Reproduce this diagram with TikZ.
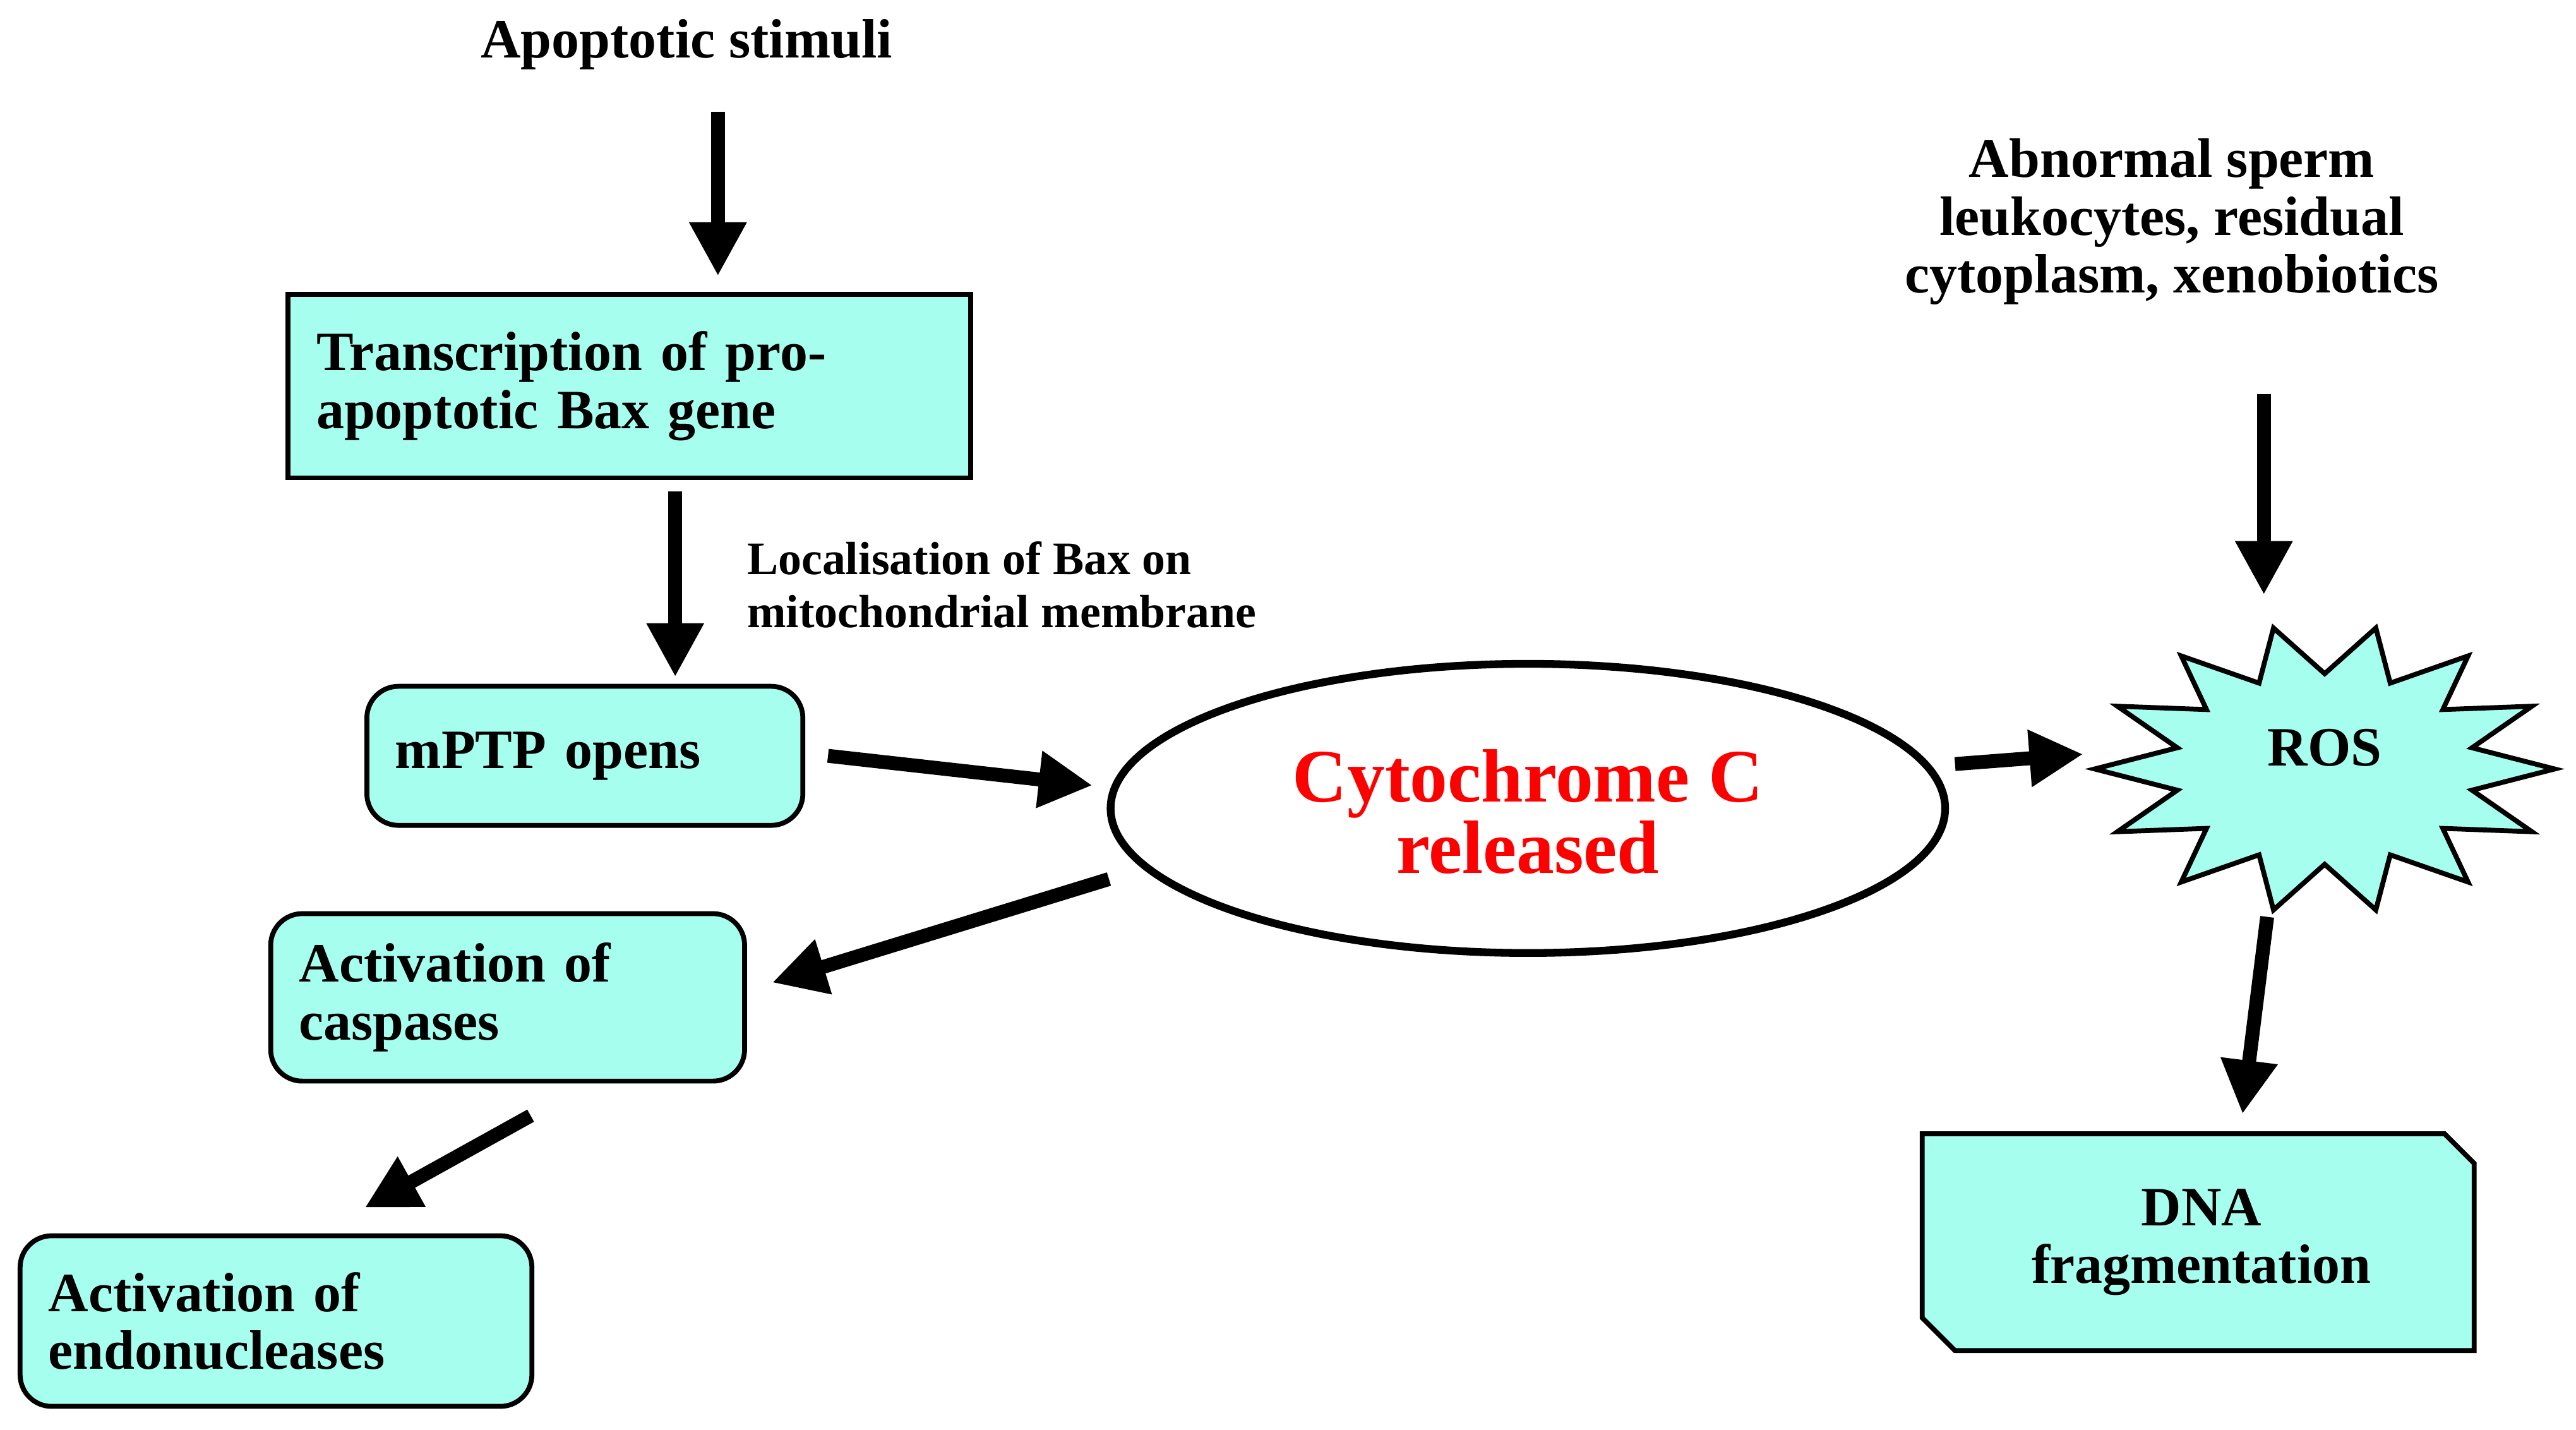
\documentclass[tikz,border=0pt]{standalone}
\usepackage{fontspec}
\setmainfont{Liberation Serif}
\usetikzlibrary{arrows.meta, positioning}
\definecolor{aqua}{RGB}{166,255,238}
\tikzset{
	x=0.026cm, y=-0.026cm,
	every node/.style={font=\bfseries\fontsize{25}{30}\selectfont},
	box/.style={draw, line width=2.2pt, fill=aqua, inner sep=0.4cm, align=left},
	rbox/.style={box, rounded corners=0.5cm},
	arr/.style={line width=0.22cm, -{Triangle[length=0.85cm,width=0.85cm]}}
}
\begin{document}
\begin{tikzpicture}
	\useasboundingbox (0,0) rectangle (1568,870);
	% texts
	\node (stim) at (418,27) {Apoptotic stimuli};
	\node[align=center] (abn) at (1322,135) {Abnormal sperm\\[-4pt]leukocytes, residual\\[-4pt]cytoplasm, xenobiotics};
	\node[align=left, anchor=west, font=\bfseries\fontsize{21}{26}\selectfont] (loc) at (450,356) {Localisation of Bax on\\[-2pt]mitochondrial membrane};
	% boxes
	\node[box, minimum width=10.8cm, minimum height=2.9cm, text width=9.9cm] (bax) at (383,235) {Transcription of pro-\\[-4pt]apoptotic Bax gene};
	\node[rbox, minimum width=6.9cm, minimum height=2.2cm, text width=6cm] (mptp) at (356,460) {mPTP opens\\[14pt]};
	\node[rbox, minimum width=7.5cm, minimum height=2.65cm, text width=6.6cm] (casp) at (309,607) {Activation of\\[-4pt]caspases};
	\node[rbox, minimum width=8.1cm, minimum height=2.7cm, text width=7.2cm] (endo) at (168,804) {Activation of\\[-4pt]endonucleases};
	\draw[line width=2.2pt, fill=aqua] (1170,690) -- (1488,690) -- (1506,708) -- (1506,822) -- (1190,822) -- (1170,802) -- cycle;
	\node[align=center] (dna) at (1340,756) {DNA\\[-4pt]fragmentation};
	% cytochrome
	\draw[line width=3.5pt] (930,492) ellipse [x radius=254, y radius=88];
	\node[align=center, text=red, font=\bfseries\fontsize{34}{40}\selectfont] (cyt) at (930,494) {Cytochrome C\\[-8pt]released};
	% ROS
	\draw[line width=2.2pt, fill=aqua] plot[samples at={0,...,27}, variable=\t]
		({1415+(116+24*cos(\t*180))*cos(\t*360/28)},{468-(73+15*cos(\t*180))*sin(\t*360/28)}) -- cycle;
	\node (ros) at (1415,455) {ROS};
	% arrow ends
	\coordinate (a1) at (437,68);   \coordinate (b1) at (437,168);
	\coordinate (a2) at (411,299);  \coordinate (b2) at (411,412);
	\coordinate (a3) at (504,460);  \coordinate (b3) at (665,478);
	\coordinate (a4) at (1190,465); \coordinate (b4) at (1268,459);
	\coordinate (a5) at (1378,240); \coordinate (b5) at (1378,362);
	\coordinate (a6) at (1380,558); \coordinate (b6) at (1365,678);
	\coordinate (a7) at (675,535);  \coordinate (b7) at (470,598);
	\coordinate (a8) at (323,679);  \coordinate (b8) at (222,735);
	\foreach \k in {1,...,8} \draw[arr] (a\k) -- (b\k);
\end{tikzpicture}
\end{document}
